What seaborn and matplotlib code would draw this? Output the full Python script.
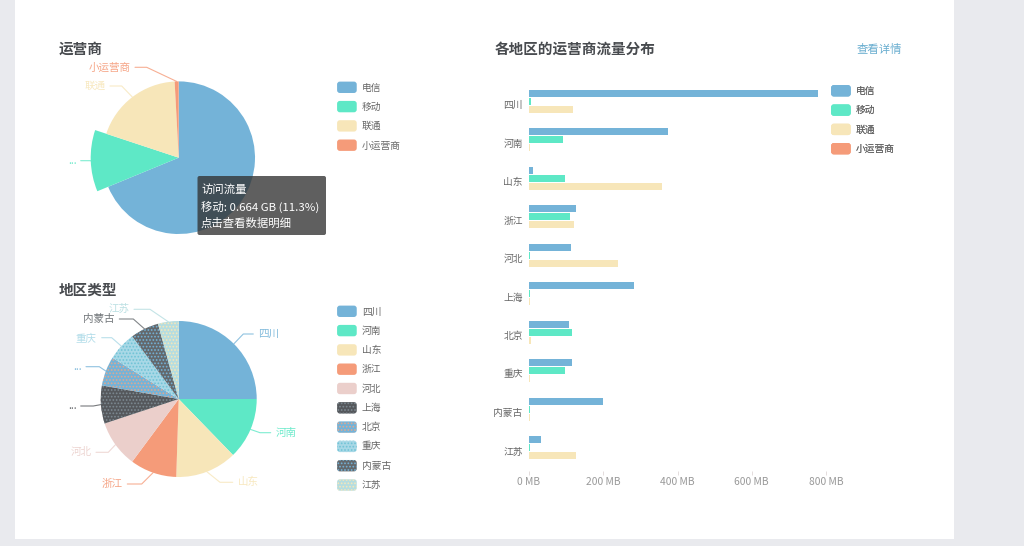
import numpy as np
import pandas as pd
import seaborn as sns
import matplotlib
matplotlib.use('Agg')
import matplotlib.pyplot as plt
from matplotlib.legend_handler import HandlerPatch
from matplotlib.patches import FancyBboxPatch, Patch, Rectangle
from matplotlib.transforms import ScaledTranslation

# data
operators = ['电信', '移动', '联通', '小运营商']
operator_share = [4.04, 0.664, 1.12, 0.05]  # GB

regions = ['四川', '河南', '山东', '浙江', '河北', '上海', '北京', '重庆', '内蒙古', '江苏']
region_share = [25.1, 12.8, 12.8, 9.7, 9.8, 7.9, 6.1, 6.0, 5.9, 4.3]

dianxin = [778, 375, 10, 127, 114, 284, 108, 117, 198, 32]
yidong = [5, 92, 98, 110, 2, 2, 115, 96, 2, 4]
liantong = [118, 2, 358, 121, 239, 4, 5, 2, 4, 126]
xiao = [0, 0, 0, 0, 0, 0, 0, 0, 0, 0]

bar_ticks = [0, 200, 400, 600, 800]

# page colours
page_bg = '#e9eaee'
op_colors = ['#74b3d8', '#5ee8c6', '#f7e6b9', '#f59b79']
reg_colors = ['#74b3d8', '#5ee8c6', '#f7e6b9', '#f59b79', '#ebcfcb',
              '#55585c', '#74b3d8', '#a8d8e6', '#63686c', '#b5dde0']
reg_dots = [None, None, None, None, None, '#7d8a92', '#e0a890', '#6fc3d6', '#74b3d8', '#f7e6b9']

sns.set_theme(style='white')
plt.rcParams['font.family'] = ['Noto Sans CJK SC', 'DejaVu Sans']
plt.rcParams['hatch.linewidth'] = 0.8

W, H = 1024, 546
fig = plt.figure(figsize=(W / 100, H / 100), dpi=100, facecolor=page_bg)


def axes_px(x0, y0, x1, y1, **kw):
    # axes box given in picture pixels, y going down
    return fig.add_axes([x0 / W, 1 - y1 / H, (x1 - x0) / W, (y1 - y0) / H], **kw)


# white panel behind everything
bg = axes_px(0, 0, W, H, zorder=-1)
bg.set_xlim(0, W)
bg.set_ylim(H, 0)
bg.axis('off')
bg.add_patch(Rectangle((15, 0), 939, 539, color='white', lw=0))

# overlay for tooltip, titles, legends
top = axes_px(0, 0, W, H, zorder=5)
top.set_xlim(0, W)
top.set_ylim(H, 0)
top.axis('off')
top.patch.set_alpha(0)


def rounded_handle(legend, orig_handle, xdescent, ydescent, width, height, fontsize):
    box_h = 8.2
    y = height / 2 - ydescent - box_h / 2
    return FancyBboxPatch((-xdescent + 1.5, y), width - 3, box_h,
                          boxstyle='round,pad=0,rounding_size=2', mutation_aspect=1)


def add_legend(names, colors, dots, x, y):
    handles = []
    for c, d in zip(colors, dots):
        if d:
            handles.append(Patch(facecolor=c, edgecolor=d, hatch='.....', lw=0))
        else:
            handles.append(Patch(facecolor=c, edgecolor=c, lw=0))
    leg = top.legend(handles, names, loc='upper left', bbox_to_anchor=(x, y),
                     bbox_transform=top.transData, frameon=False, fontsize=7.0,
                     handlelength=2.45, handleheight=1.3, handletextpad=0.3,
                     labelspacing=0.895, borderpad=0, borderaxespad=0, labelcolor='#666666',
                     handler_map={Patch: HandlerPatch(patch_func=rounded_handle)})
    top.add_artist(leg)


def draw_pie(values, colors, dots, cx, cy, r, labels, grow=None):
    ax = axes_px(cx - 1.25 * r, cy - 1.25 * r, cx + 1.25 * r, cy + 1.25 * r, zorder=1)
    wedges, _ = ax.pie(values, colors=colors, startangle=90, counterclock=False,
                       wedgeprops={'linewidth': 0})
    for w, d in zip(wedges, dots):
        if d:
            w.set_hatch('.....')
            w.set_edgecolor(d)
    # hovered slice is drawn with a bigger radius
    if grow is not None:
        wedges[grow[0]].set_radius(grow[1] / r)
    # leader lines, the start point comes from the slice angle
    frac = np.array(values) / np.sum(values)
    ends = np.cumsum(frac)
    for i, lab in enumerate(labels):
        if lab is None:
            continue
        text, ex, ey, lx, tx, ha = lab
        mid = (ends[i] - frac[i] / 2) * 2 * np.pi
        rr = grow[1] if grow is not None and grow[0] == i else r
        sx = cx + rr * np.sin(mid)
        sy = cy - rr * np.cos(mid)
        col = colors[i]
        top.plot([sx, ex, lx], [sy, ey, ey], color=col, lw=0.8, alpha=0.8)
        top.text(tx, ey, text, color=col, alpha=0.9, fontsize=7.6, ha=ha, va='center')


# top left pie
op_labels = [
    None,
    ('...', 90.7, 160.7, 80.7, 76.7, 'right'),
    ('联通', 121.7, 86, 110, 106, 'right'),
    ('小运营商', 146.7, 67.3, 135, 130.7, 'right'),
]
draw_pie(operator_share, op_colors, [None] * 4, 178.7, 157.7, 76.3, op_labels, grow=(1, 88))

# bottom left pie
reg_labels = [
    ('四川', 243.3, 334, 253.3, 258.3, 'left'),
    ('河南', 260, 432.7, 270.7, 275.7, 'left'),
    ('山东', 220, 482.3, 232.7, 237.7, 'left'),
    ('浙江', 141.7, 484, 127.3, 122.7, 'right'),
    ('河北', 108.3, 452.3, 96, 91.7, 'right'),
    ('...', 93.3, 406, 80.7, 76.7, 'right'),
    ('...', 99.3, 366.7, 86, 81.7, 'right'),
    ('重庆', 111.7, 337.7, 101.7, 96.7, 'right'),
    ('内蒙古', 133.3, 319, 119.3, 114, 'right'),
    ('江苏', 150, 309.3, 134, 129.3, 'right'),
]
draw_pie(region_share, reg_colors, reg_dots, 178.7, 399, 78, reg_labels)

# bars
df = pd.DataFrame({'地区': regions, '电信': dianxin, '移动': yidong, '联通': liantong, '小运营商': xiao})
df = df.melt(id_vars='地区', var_name='运营商', value_name='流量')

ax = axes_px(529, 86.2, 826, 471.2, zorder=1)
sns.barplot(data=df, x='流量', y='地区', hue='运营商', hue_order=operators,
            palette=op_colors, saturation=1, width=0.83, gap=0.12, legend=False,
            edgecolor='none', linewidth=0, ax=ax)
ax.set_xlim(0, 800)
ax.set_xlabel('')
ax.set_ylabel('')
ax.set_facecolor('none')
sns.despine(ax=ax, left=True, bottom=True)
ax.set_xticks(bar_ticks)
ax.set_xticklabels([f'{t} MB' for t in bar_ticks])
ax.tick_params(axis='x', length=3, width=0.7, color='#e4dcdc', labelsize=7.4,
               labelcolor='#999999', pad=1, bottom=True)
ax.tick_params(axis='y', length=0, labelsize=7.0, labelcolor='#666666', pad=4.5, left=False)
# region names sit a little above the category centre
for lab in ax.get_yticklabels():
    lab.set_transform(lab.get_transform() + ScaledTranslation(0, 1.3 / 100, fig.dpi_scale_trans))

# titles
for x, y, s in [(59, 49, '运营商'), (59, 290, '地区类型'), (495, 49, '各地区的运营商流量分布')]:
    top.text(x, y, s, fontsize=10.5, fontweight='bold', color='#484b4f', ha='left', va='center')
top.text(857, 50, '查看详情', fontsize=8.2, color='#6aaed0', ha='left', va='center')

# legends
add_legend(operators, op_colors, [None] * 4, 335, 82)
add_legend(regions, reg_colors, reg_dots, 335, 306)
add_legend(operators, op_colors, [None] * 4, 829, 85.5)

# tooltip
top.add_patch(FancyBboxPatch((197.5, 176), 128.5, 59, boxstyle='round,pad=0,rounding_size=2',
                             facecolor='#323232', edgecolor='none', alpha=0.78))
for y, s in [(189.5, '访问流量'), (206.5, '移动: 0.664 GB (11.3%)'), (223.5, '点击查看数据明细')]:
    top.text(201, y, s, fontsize=8.2, color='white', ha='left', va='center')

fig.savefig('out.png', dpi=100, facecolor=page_bg)
